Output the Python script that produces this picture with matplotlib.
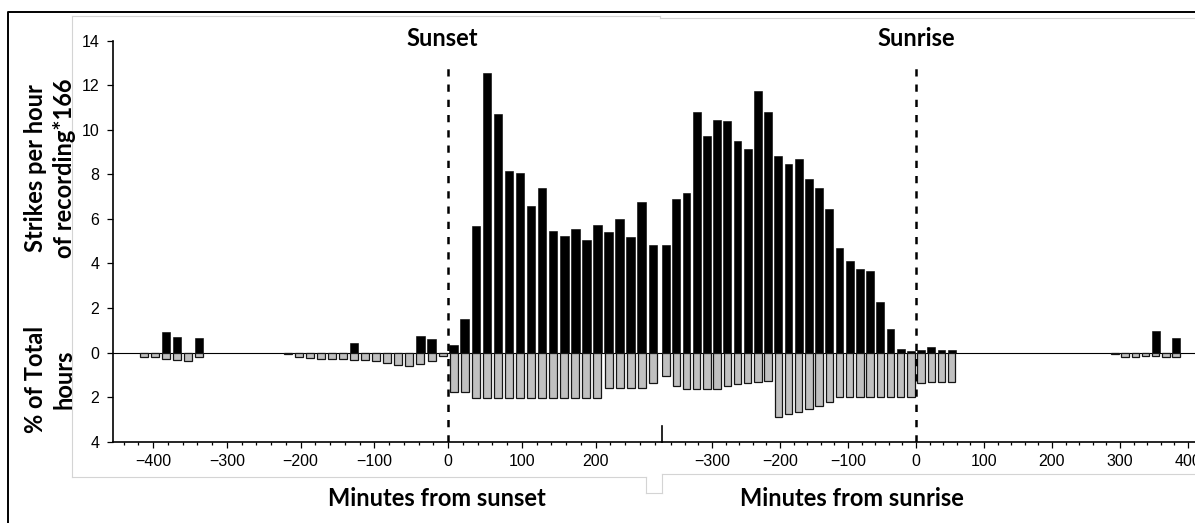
import matplotlib
matplotlib.use('Agg')
import matplotlib.pyplot as plt
from matplotlib.lines import Line2D
from matplotlib.ticker import MultipleLocator, FuncFormatter
import numpy as np

W, H = 1195, 523
fs_tick = 11.5
fs_lab = 17
lab_font = 'Lato'

# 15 minute bins, centre of each bin
sunset_bins = np.arange(-412.5, 280, 15)
sunset_strikes = [0, 0, 0.93, 0.72, 0, 0.66,
                  0, 0, 0, 0, 0, 0, 0, 0,
                  0, 0, 0, 0, 0, 0.42,
                  0, 0, 0, 0, 0, 0.75, 0.63, 0,
                  0.36, 1.52, 5.66, 12.55, 10.73, 8.17, 8.07, 6.59, 7.41, 5.44,
                  5.23, 5.56, 5.07, 5.74, 5.41, 6.01, 5.20, 6.77, 4.84]
sunset_hours = [0.19, 0.22, 0.27, 0.33, 0.39, 0.18,
                0, 0, 0, 0, 0, 0, 0, 0.08,
                0.20, 0.25, 0.30, 0.30, 0.27, 0.33,
                0.34, 0.40, 0.46, 0.55, 0.61, 0.52, 0.39, 0.16,
                1.78, 1.75, 2.06, 2.06, 2.06, 2.06, 2.06, 2.06, 2.06, 2.06,
                2.06, 2.06, 2.06, 2.06, 1.58, 1.58, 1.58, 1.58, 1.37]

sunrise_bins = np.arange(-367.5, 390, 15)
sunrise_strikes = [4.81, 6.90, 7.16, 10.81, 9.71, 10.45, 10.39, 9.51, 9.13, 11.73,
                   10.81, 8.83, 8.48, 8.68, 7.77, 7.38, 6.46, 4.68, 4.09, 3.75,
                   3.65, 2.27, 1.04, 0.18, 0.06, 0.10, 0.25, 0.10, 0.10,
                   0, 0, 0, 0, 0, 0, 0, 0, 0, 0, 0, 0, 0, 0, 0, 0, 0, 0, 0,
                   0.96, 0, 0.64]
sunrise_hours = [1.06, 1.51, 1.63, 1.63, 1.63, 1.62, 1.51, 1.42, 1.37, 1.33, 1.28,
                 2.89, 2.75, 2.68, 2.55, 2.40, 2.21,
                 2.01, 2.01, 2.01, 2.01, 2.01, 2.01, 2.01, 2.01,
                 1.37, 1.34, 1.34, 1.34,
                 0, 0, 0, 0, 0, 0, 0, 0, 0, 0, 0, 0, 0, 0, 0,
                 0.08, 0.22, 0.19, 0.15, 0.15, 0.18, 0.22]

plt.rcParams['font.family'] = ['Liberation Sans', 'DejaVu Sans']


def fx(x):
    return x / W


def fy(y):
    return 1 - y / H


def draw_panel(ax, bins, strikes, hours, xlim):
    bins = np.asarray(bins)
    s = np.asarray(strikes)
    h = np.asarray(hours)
    ax.axhline(0, color='black', lw=0.8, zorder=1)
    m = s > 0
    ax.bar(bins[m], s[m], width=11.5, color='black', edgecolor='black', lw=0.4, zorder=2)
    m = h > 0
    ax.bar(bins[m], -h[m], width=10.8, color='#c0c0c0', edgecolor='#151515', lw=0.9, zorder=2)
    ax.plot([0, 0], [-4, 13.1], ls=(0, (2.9, 3.2)), color='black', lw=1.8, zorder=3)
    ax.set_xlim(xlim)
    ax.set_ylim(-4, 14)
    ax.patch.set_alpha(0)
    for sp in ['top', 'right']:
        ax.spines[sp].set_visible(False)
    ax.spines['bottom'].set_linewidth(1.2)
    ax.xaxis.set_major_locator(MultipleLocator(100))
    ax.xaxis.set_minor_locator(MultipleLocator(20))
    ax.tick_params(axis='x', which='major', length=4, width=0.9, labelsize=fs_tick, pad=5)
    ax.tick_params(axis='x', which='minor', length=2.5, width=0.9)


fig = plt.figure(figsize=(W / 100, H / 100), dpi=100)

y_top, y_bot = 40.7, 441.7
ax1 = fig.add_axes([fx(113.3), fy(y_bot), (662 - 113.3) / W, (y_bot - y_top) / H])
draw_panel(ax1, sunset_bins, sunset_strikes, sunset_hours, (-454, 290))
ax1.spines['left'].set_linewidth(1.2)
ax1.yaxis.set_major_locator(MultipleLocator(2))
ax1.yaxis.set_major_formatter(FuncFormatter(lambda v, p: f'{abs(v):g}'))
ax1.tick_params(axis='y', length=4, width=0.9, labelsize=fs_tick, pad=6)

ax2 = fig.add_axes([fx(662), fy(y_bot), (1195 - 662) / W, (y_bot - y_top) / H])
draw_panel(ax2, sunrise_bins, sunrise_strikes, sunrise_hours, (-373.5, 410.3))
ax2.spines['left'].set_visible(False)
ax2.set_yticks([])
ax2.plot([-373.5, -373.5], [-4, -3.3], color='black', lw=1.2, clip_on=False)

# titles and labels
tkw = dict(fontweight='bold', family=lab_font, ha='center', va='center')
fig.text(fx(442.5), fy(38.5), 'Sunset', fontsize=fs_lab, **tkw)
fig.text(fx(916), fy(38.5), 'Sunrise', fontsize=fs_lab, **tkw)
fig.text(fx(436.5), fy(498), 'Minutes from sunset', fontsize=fs_lab, **tkw)
fig.text(fx(852), fy(498), 'Minutes from sunrise', fontsize=fs_lab, **tkw)
fig.text(fx(50), fy(168), 'Strikes per hour\nof recording*166', fontsize=fs_lab,
         rotation=90, multialignment='center', linespacing=1.3, **tkw)
fig.text(fx(50), fy(379), '% of Total\nhours', fontsize=fs_lab,
         rotation=90, multialignment='center', linespacing=1.3, **tkw)

# chart area outlines of the two pasted charts
grey = '#d4d4d4'
outline = [
    ([71.7, 71.7], [15.7, 476.7]),
    ([71.7, 660], [15.7, 15.7]),
    ([660, 660], [15.7, 18.3]),
    ([660, 1195], [18.3, 18.3]),
    ([71.7, 646], [476.7, 476.7]),
    ([646, 646], [476.7, 493]),
    ([646, 662], [493, 493]),
    ([662, 662], [493, 474.3]),
    ([662, 1195], [474.3, 474.3]),
]
for xs, ys in outline:
    fig.add_artist(Line2D([fx(v) for v in xs], [fy(v) for v in ys], color=grey, lw=0.8))

# outer frame (left and top edges only are in view)
fig.add_artist(Line2D([fx(8.3), fx(8.3), fx(1195)], [fy(523), fy(12.3), fy(12.3)],
                      color='black', lw=1.4))

fig.savefig('out.png', dpi=100)
